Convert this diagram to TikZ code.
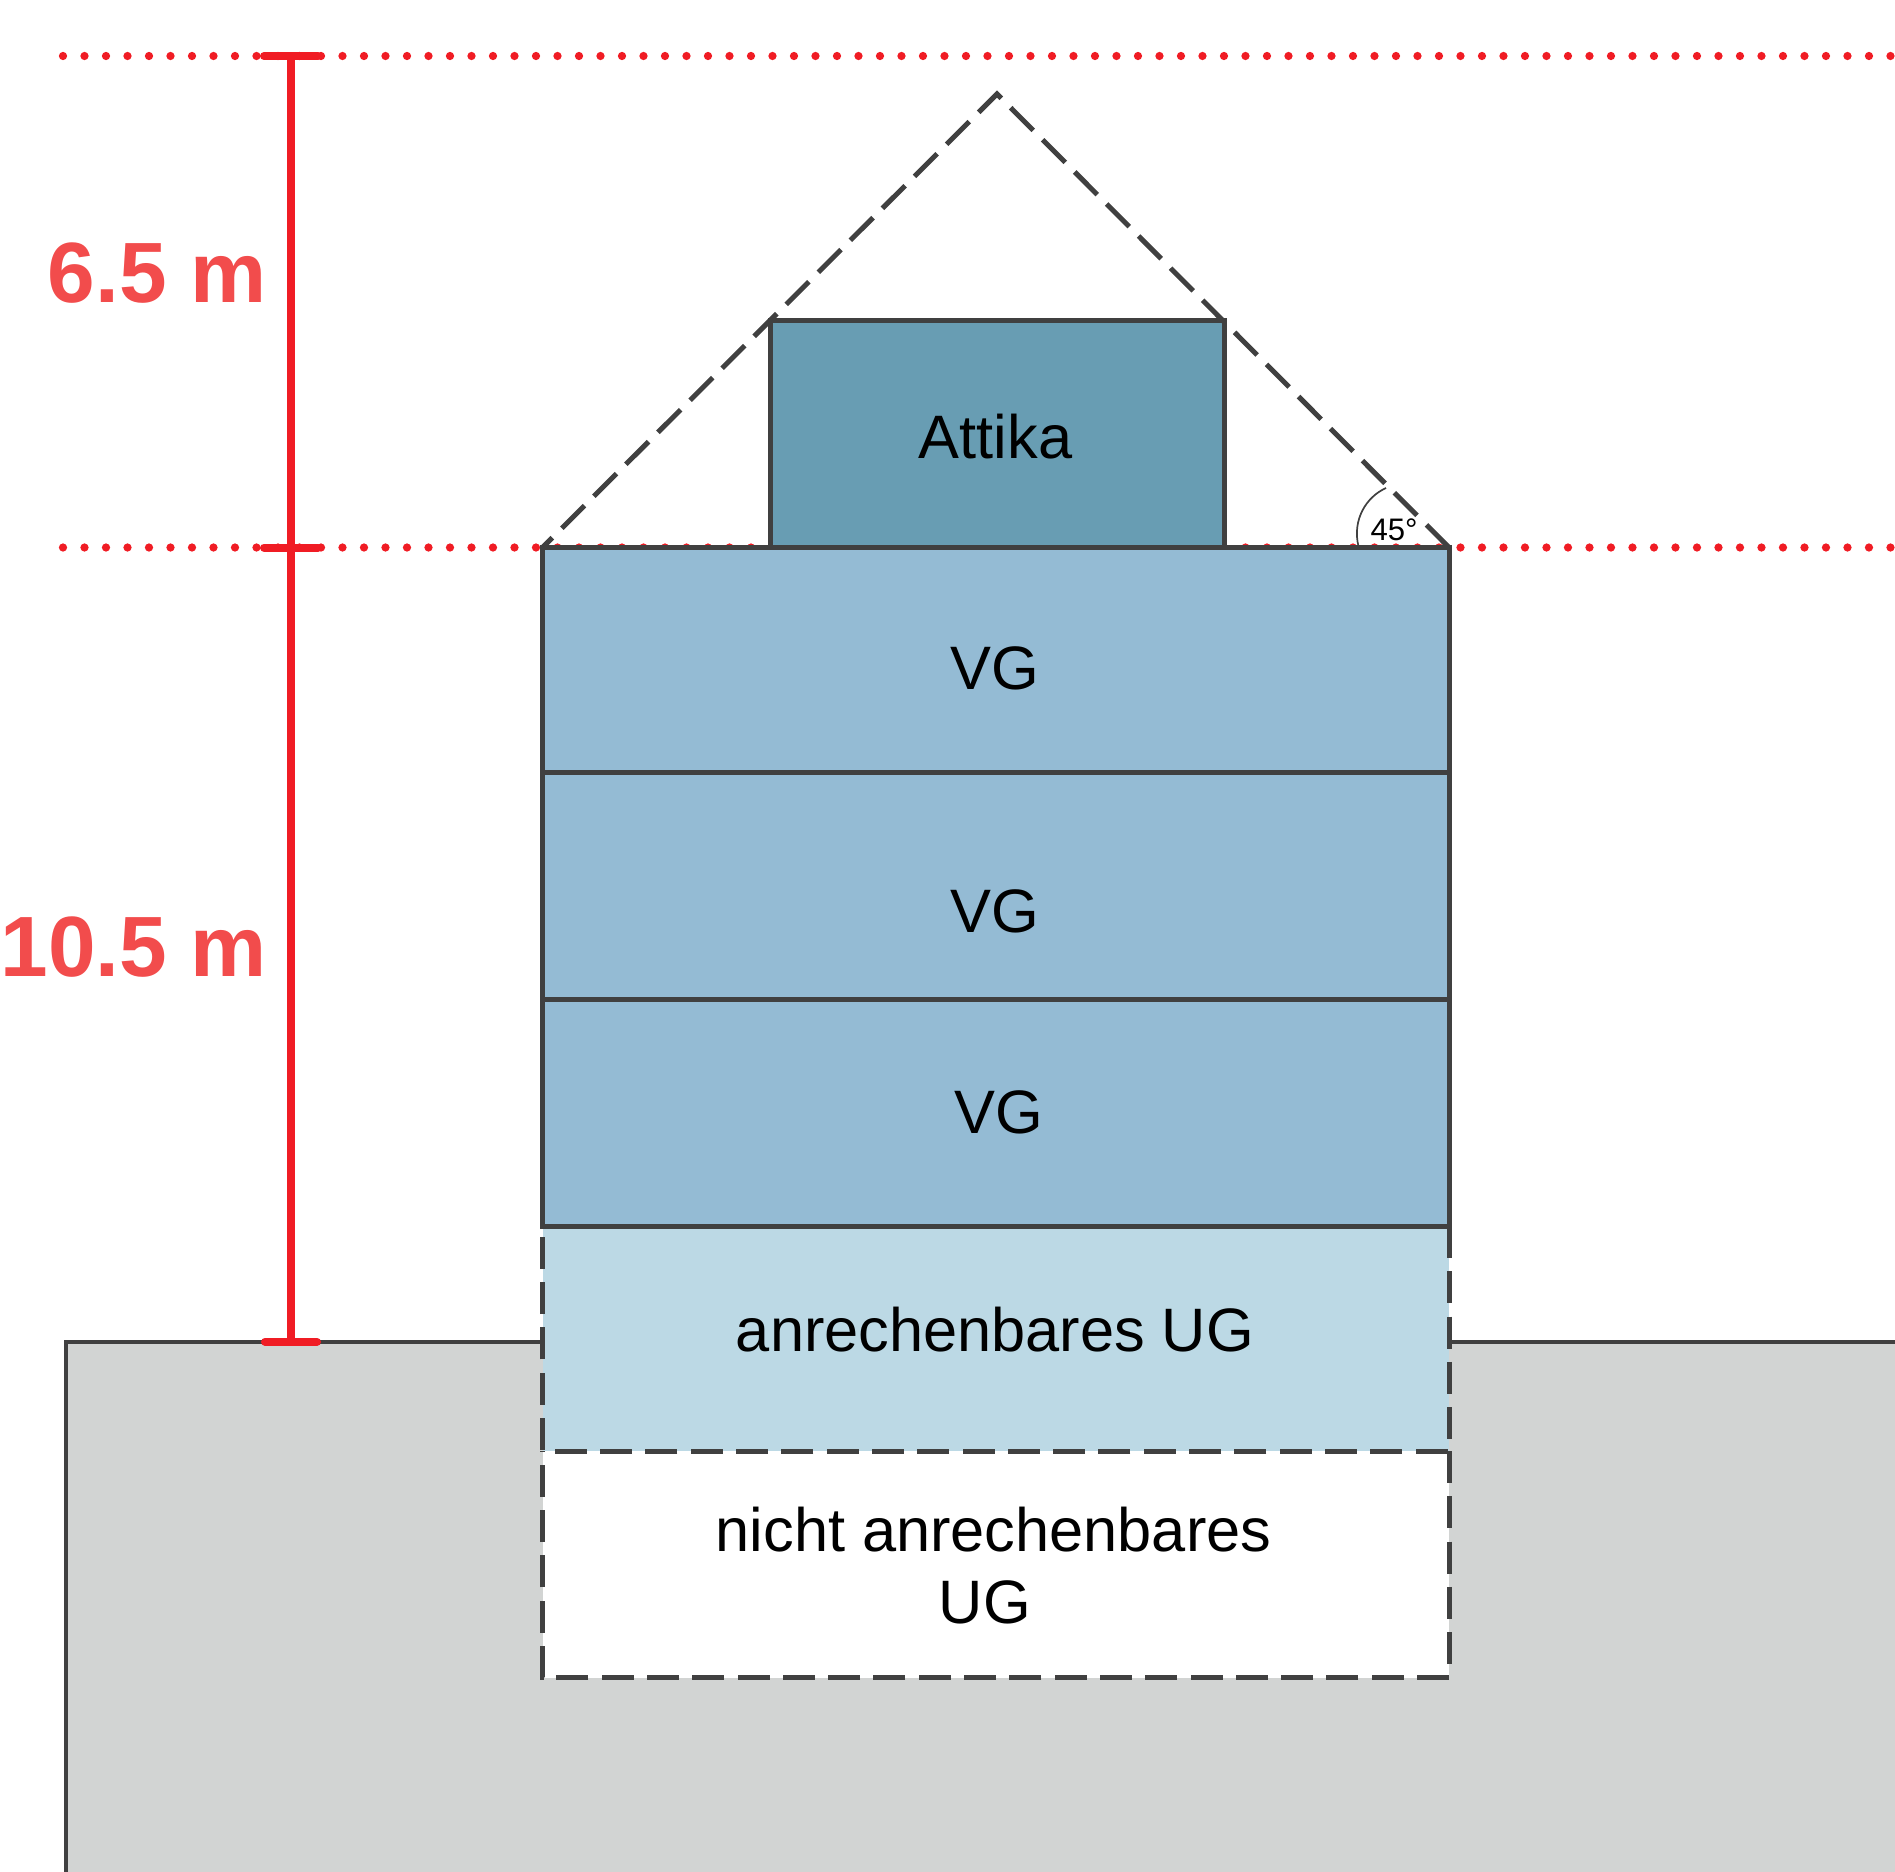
\documentclass[tikz,border=0pt]{standalone}
\usepackage{fontspec}
\setmainfont{Liberation Sans}
\usetikzlibrary{positioning, backgrounds}
\definecolor{linegray}{HTML}{404040}
\definecolor{vgblue}{HTML}{94BBD4}
\definecolor{attikablue}{HTML}{689DB3}
\definecolor{ugblue}{HTML}{BCD9E5}
\definecolor{earth}{HTML}{D2D4D3}
\definecolor{measred}{HTML}{F01C24}
\definecolor{labelred}{HTML}{F24C4C}
\tikzset{
  floorbox/.style={rectangle, draw=linegray, line width=0.1cm, fill=vgblue,
    minimum width=18.13cm, inner sep=0pt, outer sep=0pt},
  attikabox/.style={floorbox, fill=attikablue, minimum width=9.08cm},
  ugbox/.style={rectangle, minimum width=18.13cm, inner sep=0pt, outer sep=0pt},
  lbl/.style={font=\fontsize{34.9}{41}\selectfont, align=center, inner sep=0pt, text=black},
  anglelbl/.style={font=\fontsize{17.7}{21}\selectfont, inner sep=0pt, text=black},
  measlbl/.style={font=\bfseries\fontsize{48.7}{58}\selectfont, text=labelred, inner sep=0pt, anchor=base east},
  dashln/.style={draw=linegray, line width=0.1cm, dash pattern=on 0.64cm off 0.266cm},
  groundln/.style={draw=linegray, line width=0.08cm},
  dotln/.style={draw=measred, line width=0.165cm, line cap=round, dash pattern=on 0pt off 0.43cm},
  measln/.style={draw=measred, line width=0.16cm},
  tickln/.style={draw=measred, line width=0.16cm, line cap=round},
  anglearc/.style={draw=linegray, line width=0.034cm},
}

\begin{document}
\begin{tikzpicture}

\useasboundingbox (0,0) rectangle (37.9,-37.44);

% floors
\node[ugbox, fill=ugblue, minimum height=4.5cm] (UGa) at (19.915,-26.77) {};
\node[ugbox, fill=white, minimum height=4.53cm] (UGb) at (19.915,-31.285) {};
\node[attikabox, minimum height=4.536cm] (Attika) at (19.94,-8.682) {};
\node[floorbox, minimum height=4.49cm] (VGa) at (19.915,-13.195) {};
\node[floorbox, minimum height=4.544cm] (VGb) at (19.915,-17.716) {};
\node[floorbox, minimum height=4.53cm] (VGc) at (19.915,-22.255) {};

\node[lbl] (LAttika) at (19.91,-8.74) {Attika};
\node[lbl] (LVGa) at (19.9,-13.36) {VG};
\node[lbl] (LVGb) at (19.9,-18.23) {VG};
\node[lbl] (LVGc) at (19.97,-22.24) {VG};
\node[lbl] (LUGa) at (19.9,-26.6) {anrechenbares UG};
\node[lbl] (LUGb) at (19.87,-31.32) {nicht anrechenbares\\UG\hspace*{0.278em}};

% roof and reference points
\coordinate (apex) at (19.94,-1.88);
\coordinate (gndL) at (1.31,-26.834);
\coordinate (gndLb) at (1.31,-37.44);
\coordinate (gndLe) at (10.85,-26.834);
\coordinate (gndRe) at (28.98,-26.834);
\coordinate (gndR) at (37.9,-26.834);
\coordinate (gndRb) at (37.9,-37.44);
\coordinate (topL) at (1.26,-1.12);
\coordinate (topR) at (37.9,-1.12);
\coordinate (midL) at (1.26,-10.95);
\coordinate (midR) at (37.9,-10.95);
\coordinate (measT) at (5.82,-1.12);
\coordinate (measM) at (5.82,-10.95);
\coordinate (measB) at (5.82,-26.834);

\begin{scope}[on background layer]
  \fill[earth] (gndL) -- (gndR) -- (gndRb) -- (gndLb) -- cycle;
  \draw[groundln] (gndLb) -- (gndL) -- (gndLe);
  \draw[groundln] (gndRe) -- (gndR);
  \draw[dotln] (topL) -- (topR);
  \draw[dotln] (midL) -- (midR);
\end{scope}

\draw[dashln] (VGa.north east) -- (apex) -- (VGa.north west);
\draw[dashln] (UGa.north east) -- (UGa.south east) -- (UGa.south west) -- (UGa.north west);
\draw[dashln] (UGb.north east) -- (UGb.south east) -- (UGb.south west) -- (UGb.north west);

\coordinate (arcA) at (27.17,-10.93);
\coordinate (arcB) at (27.72,-9.76);
\draw[anglearc] (arcA) .. controls (27.04,-10.4) and (27.32,-9.94) .. (arcB);
\node[anglelbl] (LAngle) at (27.88,-10.6) {45°};

% height marks
\draw[measln] (measT) -- (measB);
\draw[tickln] ([xshift=-0.54cm]measT) -- ([xshift=0.54cm]measT);
\draw[tickln] ([xshift=-0.54cm]measM) -- ([xshift=0.54cm]measM);
\draw[tickln] ([xshift=-0.52cm]measB) -- ([xshift=0.52cm]measB);
\node[measlbl] (LTop) at (5.34,-6.04) {6.5 m};
\node[measlbl] (LBot) at (5.35,-19.52) {10.5 m};

\end{tikzpicture}
\end{document}
